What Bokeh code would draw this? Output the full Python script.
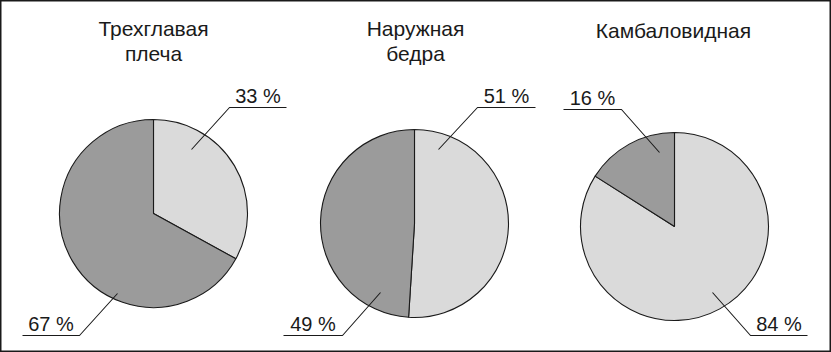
import numpy as np
from bokeh.plotting import figure
from bokeh.models import Range1d, ColumnDataSource
from bokeh.core.properties import value
from bokeh.embed import file_html
from bokeh.resources import INLINE

# ---- data ----
titles = ["Трехглавая\nплеча", "Наружная\nбедра", "Камбаловидная"]
light_pct = [33, 51, 84]
dark_pct = [67, 49, 16]

# ---- layout (pixels, image coordinates with y downwards) ----
W, H = 831, 352
centers = [(153, 213), (414, 223), (674, 226)]
R = 94
title_pos = [(153, 28), (415, 28), (673, 30)]
# label layout per pie: (underline x0, x1, y, leader inner x, y) for light and dark slices
light_lbl = [(229, 286, 107, 191, 149), (477, 535, 107, 438, 149), (750, 807, 335, 712, 292)]
dark_lbl = [(22, 79, 335, 117, 293), (283, 342, 335, 380, 292), (563, 621, 109, 659, 152)]
light_attach = ["left", "left", "left"]
dark_attach = ["right", "right", "right"]

LIGHT = "#dadada"
DARK = "#9b9b9b"
INK = "#1a1a1a"
FONT = value("Liberation Sans")


def Y(v):
    return H - v


p = figure(width=W, height=H, x_range=Range1d(0, W), y_range=Range1d(0, H),
           output_backend="svg", toolbar_location=None,
           x_axis_location=None, y_axis_location=None, min_border=0)
p.grid.visible = False
p.outline_line_color = INK
p.outline_line_width = 2
p.background_fill_color = "white"
p.border_fill_color = "white"

# wedges
wx, wy, ws, we, wc = [], [], [], [], []
for (cx, cy), lp, dp in zip(centers, light_pct, dark_pct):
    total = lp + dp
    a0 = np.pi / 2
    a1 = a0 - 2 * np.pi * lp / total
    a2 = a1 - 2 * np.pi * dp / total
    wx += [cx, cx]
    wy += [Y(cy), Y(cy)]
    ws += [a0, a1]
    we += [a1, a2]
    wc += [LIGHT, DARK]
src = ColumnDataSource(dict(x=wx, y=wy, s=ws, e=we, c=wc))
p.wedge(x="x", y="y", radius=R, start_angle="s", end_angle="e", direction="clock",
        fill_color="c", line_color=INK, line_width=1.1, source=src)

# labels
lx, ly, lt = [], [], []
segx, segy = [], []
for i in range(3):
    for pct, lay, att in ((light_pct[i], light_lbl[i], light_attach[i]),
                          (dark_pct[i], dark_lbl[i], dark_attach[i])):
        x0, x1, uy, ix, iy = lay
        ax = x0 if att == "left" else x1
        segx.append([ix, ax, x0 if att == "right" else x1])
        segy.append([Y(iy), Y(uy), Y(uy)])
        lx.append((x0 + x1) / 2)
        ly.append(Y(uy - 1))
        lt.append(f"{pct} %")
p.multi_line(xs=segx, ys=segy, line_color=INK, line_width=1.1)
p.text(x=lx, y=ly, text=lt, text_font=FONT, text_font_size="20px",
       text_color=INK, text_align="center", text_baseline="bottom")

# titles
tx, ty, tt = [], [], []
for (x, y), t in zip(title_pos, titles):
    for k, line in enumerate(t.split("\n")):
        tx.append(x)
        ty.append(Y(y + 25 * k))
        tt.append(line)
p.text(x=tx, y=ty, text=tt, text_font=FONT, text_font_size="21px",
       text_color=INK, text_align="center", text_baseline="middle")

open("out.html", "w").write(file_html(p, INLINE))
